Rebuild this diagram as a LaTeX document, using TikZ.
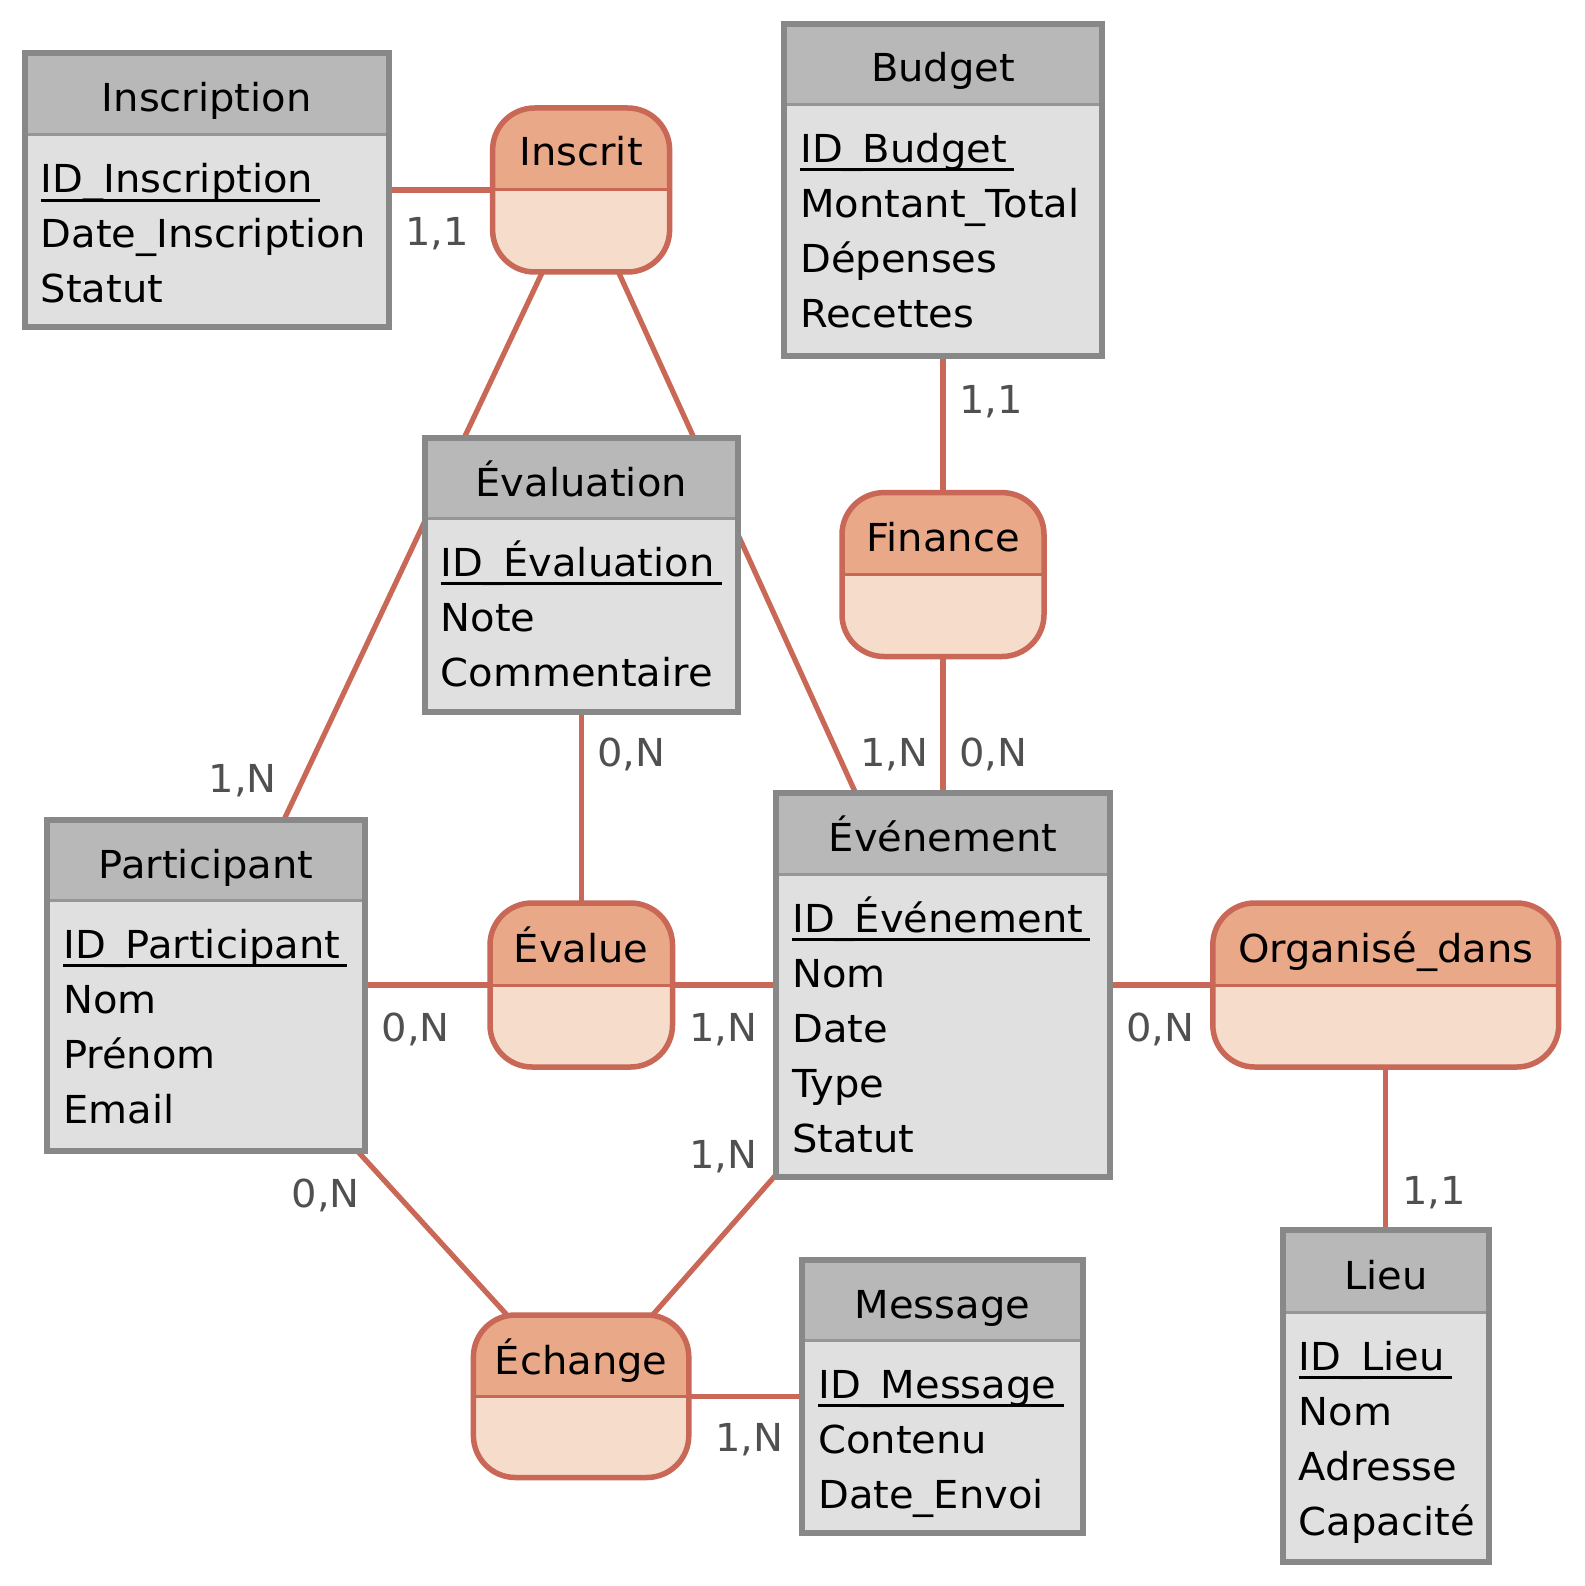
\documentclass[tikz,border=0pt]{standalone}
\usepackage{fontspec}
\setmainfont[FakeStretch=1.04]{DejaVu Sans}
\usetikzlibrary{fit}
\pgfdeclarelayer{bgwhite}
\pgfdeclarelayer{edges}
\pgfsetlayers{bgwhite,edges,main}
\definecolor{entborder}{HTML}{888888}
\definecolor{enthead}{HTML}{B8B8B8}
\definecolor{entbody}{HTML}{E0E0E0}
\definecolor{entsep}{HTML}{969696}
\definecolor{relborder}{HTML}{C96856}
\definecolor{relhead}{HTML}{E9A888}
\definecolor{relbody}{HTML}{F6DCCB}
\definecolor{cardgray}{HTML}{505050}
\newcommand{\us}{\char95\relax}
\newcommand{\erfont}{\fontsize{38.5}{46}\selectfont}
\newcommand{\erentity}[6]{%
  \fill[entbody] (#2,#3) rectangle (#4,#5);
  \fill[enthead] (#2,#3) rectangle (#4,#6);
  \draw[entsepline] (#2,#6) -- (#4,#6);
  \node[entframe, fit={(#2,#3) (#4,#5)}] (#1) {};
}
\newcommand{\errel}[6]{%
  \begin{scope}
    \clip[rounded corners=42pt] (#2,#3) rectangle (#4,#5);
    \fill[relbody] (#2,#3) rectangle (#4,#5);
    \fill[relhead] (#2,#3) rectangle (#4,#6);
    \draw[relsepline] (#2,#6) -- (#4,#6);
  \end{scope}
  \node[relframe, fit={(#2,#3) (#4,#5)}] (#1) {};
}
\newcommand{\ulnode}[1]{\draw[ulline] ([yshift=-7.3pt]#1.base west) -- ([xshift=7pt,yshift=-7.3pt]#1.base east);}
\begin{document}
\begin{tikzpicture}[x=1pt,y=-1pt,
  entframe/.style={draw=entborder, line width=6pt, inner sep=0pt},
  entsepline/.style={draw=entsep, line width=3pt},
  relframe/.style={draw=relborder, line width=5.5pt, inner sep=0pt, rounded corners=42pt},
  relsepline/.style={draw=relborder, line width=3pt},
  ttl/.style={anchor=base, inner sep=0pt, font=\erfont},
  attr/.style={anchor=base west, inner sep=0pt, font=\erfont},
  ulline/.style={draw=black, line width=2.7pt},
  card/.style={anchor=base, inner sep=0pt, font=\erfont, text=cardgray},
  link/.style={draw=relborder, line width=5.2pt}
]
\begin{pgfonlayer}{bgwhite}
  \fill[white] (0,0) rectangle (1584,1586);
\end{pgfonlayer}
\useasboundingbox (0,0) rectangle (1584,1586);

% ---------- Entities ----------
\erentity{insc}{24.5}{53}{389}{327}{135}
\node[ttl] (insc-t) at (206.75,112) {Inscription};
\node[attr] (insc-a1) at (40.5,193) {ID\us Inscription};
\ulnode{insc-a1}
\node[attr] (insc-a2) at (40.5,248) {Date\us Inscription};
\node[attr] (insc-a3) at (40.5,303) {Statut};

\erentity{budget}{784}{24}{1102}{356}{104.5}
\node[ttl] (budget-t) at (943,82) {Budget};
\node[attr] (budget-a1) at (800,162.5) {ID\us Budget};
\ulnode{budget-a1}
\node[attr] (budget-a2) at (800,217.5) {Montant\us Total};
\node[attr] (budget-a3) at (800,272.5) {Dépenses};
\node[attr] (budget-a4) at (800,327.5) {Recettes};

\erentity{evala}{424.5}{438}{738}{711.5}{518.5}
\node[ttl] (evala-t) at (581.25,496) {Évaluation};
\node[attr] (evala-a1) at (440.5,576.5) {ID\us Évaluation};
\ulnode{evala-a1}
\node[attr] (evala-a2) at (440.5,631.5) {Note};
\node[attr] (evala-a3) at (440.5,686.5) {Commentaire};

\erentity{part}{47}{819.5}{365}{1150.5}{900}
\node[ttl] (part-t) at (206,878) {Participant};
\node[attr] (part-a1) at (63,958) {ID\us Participant};
\ulnode{part-a1}
\node[attr] (part-a2) at (63,1013) {Nom};
\node[attr] (part-a3) at (63,1068) {Prénom};
\node[attr] (part-a4) at (63,1123) {Email};

\erentity{evt}{776}{793}{1110}{1177}{874}
\node[ttl] (evt-t) at (943,851.5) {Événement};
\node[attr] (evt-a1) at (792,932) {ID\us Événement};
\ulnode{evt-a1}
\node[attr] (evt-a2) at (792,987) {Nom};
\node[attr] (evt-a3) at (792,1042) {Date};
\node[attr] (evt-a4) at (792,1097) {Type};
\node[attr] (evt-a5) at (792,1152) {Statut};

\erentity{lieu}{1282.5}{1230}{1489}{1561.5}{1312}
\node[ttl] (lieu-t) at (1385.75,1289) {Lieu};
\node[attr] (lieu-a1) at (1298.5,1370) {ID\us Lieu};
\ulnode{lieu-a1}
\node[attr] (lieu-a2) at (1298.5,1425) {Nom};
\node[attr] (lieu-a3) at (1298.5,1480) {Adresse};
\node[attr] (lieu-a4) at (1298.5,1535) {Capacité};

\erentity{msg}{802}{1259.5}{1083}{1533}{1340}
\node[ttl] (msg-t) at (942.5,1318) {Message};
\node[attr] (msg-a1) at (818,1398) {ID\us Message};
\ulnode{msg-a1}
\node[attr] (msg-a2) at (818,1453) {Contenu};
\node[attr] (msg-a3) at (818,1508) {Date\us Envoi};

% ---------- Relationships ----------
\errel{inscrit}{492.6}{108}{669.6}{272}{190}
\node[ttl] (inscrit-t) at (581.1,166) {Inscrit};
\errel{finance}{842}{492.6}{1044}{656.5}{574.5}
\node[ttl] (finance-t) at (943,551.5) {Finance};
\errel{evalue}{490}{903}{672.5}{1067}{985}
\node[ttl] (evalue-t) at (581.25,962) {Évalue};
\errel{orga}{1212.8}{903}{1558.7}{1067}{985}
\node[ttl] (orga-t) at (1385.75,962) {Organisé\us dans};
\errel{echange}{473.4}{1315}{688.8}{1477.5}{1396.25}
\node[ttl] (echange-t) at (581.1,1374) {Échange};

% ---------- Connectors ----------
\begin{pgfonlayer}{edges}
  \draw[link] (insc.center) -- (inscrit.center);
  \draw[link] (part.center) -- (inscrit.center);
  \draw[link] (evt.center) -- (inscrit.center);
  \draw[link] (budget.center) -- (finance.center);
  \draw[link] (finance.center) -- (evt.center);
  \draw[link] (evala.center) -- (evalue.center);
  \draw[link] (part.center) -- (evalue.center);
  \draw[link] (evalue.center) -- (evt.center);
  \draw[link] (evt.center) -- (orga.center);
  \draw[link] (orga.center) -- (lieu.center);
  \draw[link] (part.center) -- (echange.center);
  \draw[link] (evt.center) -- (echange.center);
  \draw[link] (echange.center) -- (msg.center);
\end{pgfonlayer}

% ---------- Cardinalities ----------
\node[card] (c1) at (437,245.6) {1,1};
\node[card] (c2) at (242.8,792.9) {1,N};
\node[card] (c3) at (894.2,766.6) {1,N};
\node[card] (c4) at (991.3,413.5) {1,1};
\node[card] (c5) at (993.3,766.6) {0,N};
\node[card] (c6) at (631.2,766.6) {0,N};
\node[card] (c7) at (415.7,1041.7) {0,N};
\node[card] (c8) at (723.2,1041.7) {1,N};
\node[card] (c9) at (1160.2,1041.7) {0,N};
\node[card] (c10) at (1434.3,1204.5) {1,1};
\node[card] (c11) at (325.7,1207.6) {0,N};
\node[card] (c12) at (723.2,1168.1) {1,N};
\node[card] (c13) at (749.5,1451.3) {1,N};
\end{tikzpicture}
\end{document}
